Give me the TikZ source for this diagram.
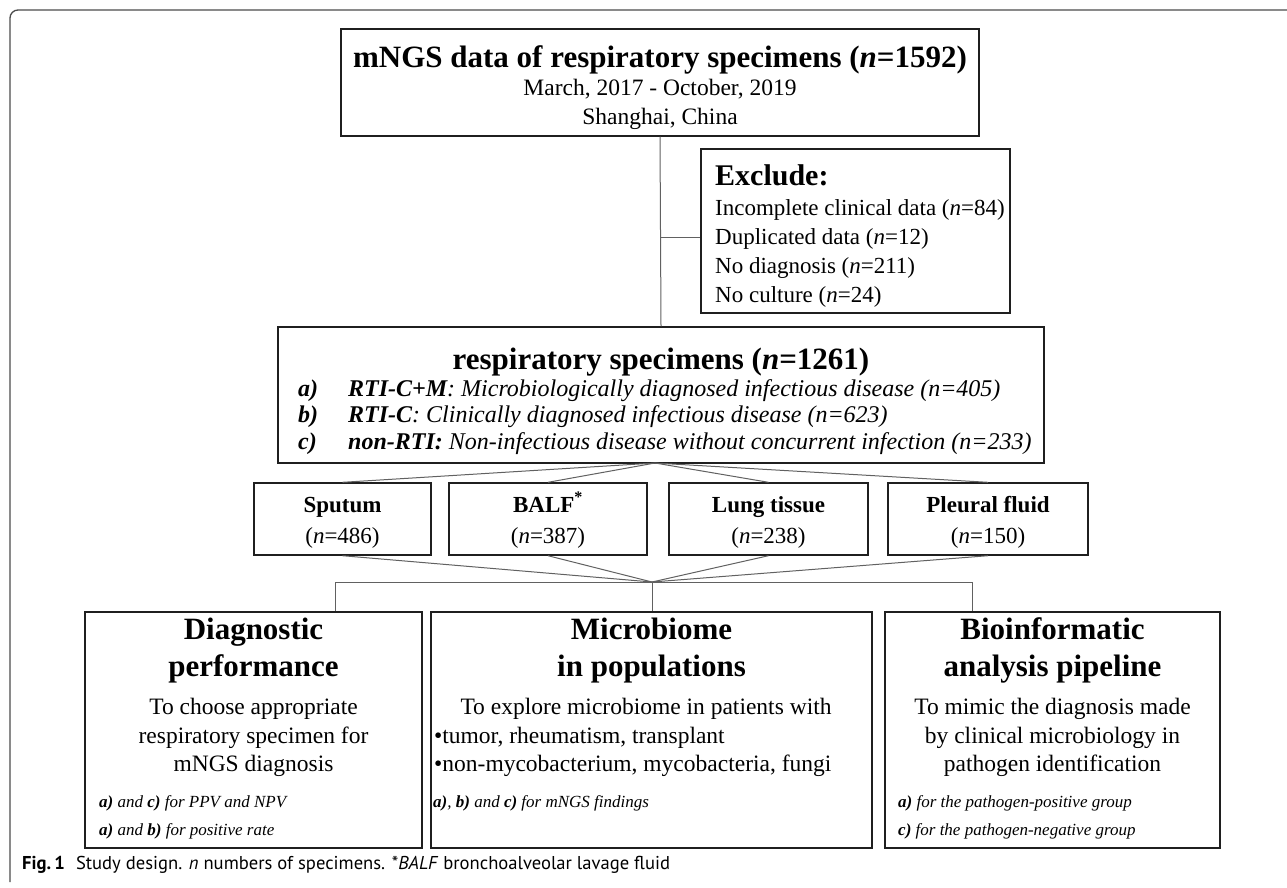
\documentclass[tikz,border=0pt]{standalone}
\usepackage{fontspec}
\setmainfont{Liberation Serif}
\newfontfamily\capfont{PT Sans}
\begin{document}
\begin{tikzpicture}[x=1pt,y=-1pt,
  box/.style={draw=black!88, line width=1.4pt, inner sep=0pt},
  conn/.style={draw=black!62, line width=1pt},
  txt/.style={inner sep=0pt, anchor=base},
  ltxt/.style={inner sep=0pt, anchor=base west},
  body/.style={font=\fontsize{23.5}{25}\selectfont},
  head/.style={font=\fontsize{31}{33}\selectfont\bfseries},
  small/.style={font=\fontsize{17}{19}\selectfont\itshape},
  frame/.style={draw=black!70, line width=1.3pt, rounded corners=8pt}]
\useasboundingbox (0,0) rectangle (1287,887);
\fill[white] (0,0) rectangle (1287,887);
\draw[frame] (10,882) -- (10,10) -- (1287,10);

% boxes
\node[box, minimum width=638, minimum height=107] (top) at (660,82.5) {};
\node[box, minimum width=309, minimum height=164] (excl) at (855.5,231) {};
\node[box, minimum width=766, minimum height=136] (mid) at (661,395) {};
\node[box, minimum width=177, minimum height=72] (sp1) at (342.5,519) {};
\node[box, minimum width=198, minimum height=72] (sp2) at (548,519) {};
\node[box, minimum width=199, minimum height=72] (sp3) at (768.5,519) {};
\node[box, minimum width=200, minimum height=72] (sp4) at (988,519) {};
\node[box, minimum width=337, minimum height=236] (b1) at (253.5,730) {};
\node[box, minimum width=441, minimum height=236] (b2) at (651.5,730) {};
\node[box, minimum width=335, minimum height=236] (b3) at (1052.5,730) {};

% connectors
\draw[conn] (top.south) -- (mid.north);
\coordinate (exj) at (660,237);
\draw[conn] (exj) -- (exj -| excl.west);
\coordinate (f1) at (655,463);
\foreach \s in {sp1,sp2,sp3,sp4} \draw[conn] (f1) -- (\s.north);
\coordinate (f2) at (652,582);
\foreach \s in {sp1,sp2,sp3,sp4} \draw[conn] (\s.south) -- (f2);
\coordinate (h1) at (335,582);
\coordinate (h3) at (972,582);
\draw[conn] (h1 |- b1.north) -- (h1) -- (h3) -- (h3 |- b3.north);
\draw[conn] (f2) -- (f2 |- b2.north);

% top box text
\node[txt, head] (t1) at (660,67) {mNGS data of respiratory specimens (\textit{n}=1592)};
\node[txt, body] (t2) at (660,95) {March, 2017 - October, 2019};
\node[txt, body] (t3) at (660,124) {Shanghai, China};

% exclude text
\node[ltxt, font=\fontsize{30}{32}\selectfont\bfseries] (e0) at (715,185) {Exclude:};
\node[ltxt, font=\fontsize{23}{25}\selectfont] (e1) at (715,215) {Incomplete clinical data (\textit{n}=84)};
\node[ltxt, font=\fontsize{23}{25}\selectfont] (e2) at (715,244) {Duplicated data (\textit{n}=12)};
\node[ltxt, font=\fontsize{23}{25}\selectfont] (e3) at (715,273) {No diagnosis (\textit{n}=211)};
\node[ltxt, font=\fontsize{23}{25}\selectfont] (e4) at (715,302) {No culture (\textit{n}=24)};

% middle text
\node[txt, head] (m0) at (661,369) {respiratory specimens (\textit{n}=1261)};
\node[ltxt, font=\fontsize{24}{26}\selectfont\bfseries\itshape] (ma) at (298,396) {a)};
\node[ltxt, font=\fontsize{24}{26}\selectfont\itshape] (mat) at (348,396) {\textbf{RTI-C+M}: Microbiologically diagnosed infectious disease (n=405)};
\node[ltxt, font=\fontsize{24}{26}\selectfont\bfseries\itshape] (mb) at (298,422) {b)};
\node[ltxt, font=\fontsize{24}{26}\selectfont\itshape] (mbt) at (348,422) {\textbf{RTI-C}: Clinically diagnosed infectious disease (n=623)};
\node[ltxt, font=\fontsize{24}{26}\selectfont\bfseries\itshape] (mc) at (298,449) {c)};
\node[ltxt, font=\fontsize{24}{26}\selectfont\itshape] (mct) at (348,449) {\textbf{non-RTI:} Non-infectious disease without concurrent infection (n=233)};

% specimen text
\foreach \s/\a/\b in {sp1/Sputum/486, sp3/Lung tissue/238, sp4/Pleural fluid/150} {
  \node[txt, font=\fontsize{23}{25}\selectfont\bfseries] (\s a) at (\s.center |- 0,512) {\a};
  \node[txt, font=\fontsize{23}{25}\selectfont] (\s b) at (\s.center |- 0,543) {(\textit{n}=\b)};
}
\node[txt, font=\fontsize{23}{25}\selectfont\bfseries] (sp2a) at (sp2.center |- 0,512) {BALF\textsuperscript{*}};
\node[txt, font=\fontsize{23}{25}\selectfont] (sp2b) at (sp2.center |- 0,543) {(\textit{n}=387)};

% bottom box 1
\node[txt, head] (b1t1) at (253.5,639) {Diagnostic};
\node[txt, head] (b1t2) at (253.5,676) {performance};
\node[txt, body] (b1l1) at (253.5,714) {To choose appropriate};
\node[txt, body] (b1l2) at (253.5,743) {respiratory specimen for};
\node[txt, body] (b1l3) at (253.5,771) {mNGS diagnosis};
\node[ltxt, small] (b1s1) at (99,807) {\textbf{a)} and \textbf{c)} for PPV and NPV};
\node[ltxt, small] (b1s2) at (99,835) {\textbf{a)} and \textbf{b)} for positive rate};

% bottom box 2
\node[txt, head] (b2t1) at (651.5,639) {Microbiome};
\node[txt, head] (b2t2) at (651.5,676) {in populations};
\node[txt, body] (b2l1) at (646,714) {To explore microbiome in patients with};
\node[ltxt, body] (b2l2) at (434,743) {\textbullet tumor, rheumatism, transplant};
\node[ltxt, body] (b2l3) at (434,771) {\textbullet non-mycobacterium, mycobacteria, fungi};
\node[ltxt, small] (b2s1) at (433,807) {\textbf{a)}, \textbf{b)} and \textbf{c)} for mNGS findings};

% bottom box 3
\node[txt, head] (b3t1) at (1052.5,639) {Bioinformatic};
\node[txt, head] (b3t2) at (1052.5,676) {analysis pipeline};
\node[txt, body] (b3l1) at (1052.5,714) {To mimic the diagnosis made};
\node[txt, body] (b3l2) at (1052.5,743) {by clinical microbiology in};
\node[txt, body] (b3l3) at (1052.5,771) {pathogen identification};
\node[ltxt, small] (b3s1) at (898,807) {\textbf{a)} for the pathogen-positive group};
\node[ltxt, small] (b3s2) at (898,835) {\textbf{c)} for the pathogen-negative group};

% caption
\node[ltxt, font=\fontsize{18.6}{20}\selectfont\capfont] (cap) at (22,869) {\textbf{Fig.\,1}\hspace{0.6em}Study design. \textit{n} numbers of specimens. *\textit{BALF} bronchoalveolar lavage fluid};
\end{tikzpicture}
\end{document}
